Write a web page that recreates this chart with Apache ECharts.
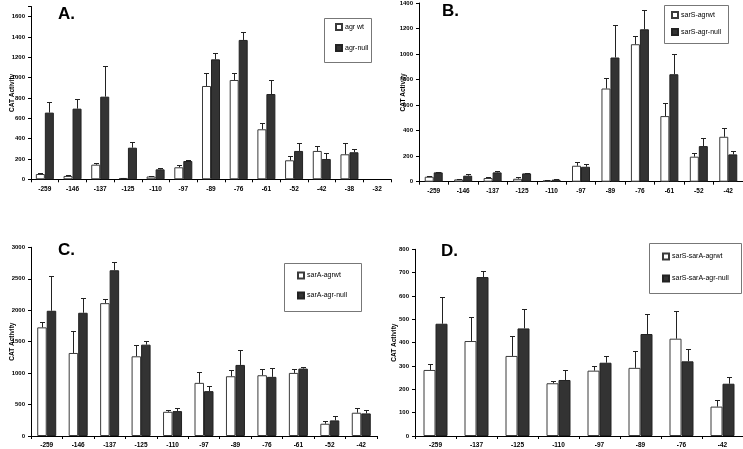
<!DOCTYPE html>
<html>
<head>
<meta charset="utf-8">
<script src="https://cdn.jsdelivr.net/npm/echarts@6/dist/echarts.min.js"></script>
<style>
html,body{margin:0;padding:0;background:#fff;}
#chart{width:743px;height:449px;}
</style>
</head>
<body>
<div id="chart"></div>
<script>
// ---- Data ----
const catsA = ['-259','-146','-137','-125','-110','-97','-89','-76','-61','-52','-42','-38','-32'];
const wtA      = [52, 33, 144, 13, 28, 118, 918, 977, 492, 187, 279, 246, null];
const wtAErr   = [66, 38, 157, 16, 33, 144, 1043, 1046, 551, 226, 331, 357, null];
const nullA    = [656, 695, 813, 311, 98, 180, 1180, 1371, 839, 279, 200, 266, null];
const nullAErr = [764, 787, 1115, 364, 108, 187, 1240, 1446, 974, 354, 256, 298, null];

const catsB = ['-259','-146','-137','-125','-110','-97','-89','-76','-61','-52','-42'];
const wtB      = [39, 18, 29, 23, 10, 125, 730, 1077, 514, 196, 352];
const wtBErr   = [47, 22, 33, 34, 13, 156, 814, 1145, 613, 222, 420];
const nullB    = [73, 47, 73, 65, 16, 117, 973, 1194, 842, 279, 214];
const nullBErr = [78, 57, 81, 70, 23, 138, 1231, 1343, 1001, 342, 237];

const catsC = ['-259','-146','-137','-125','-110','-97','-89','-76','-61','-52','-42'];
const wtC      = [1727, 1320, 2112, 1267, 385, 845, 950, 966, 1003, 195, 370];
const wtCErr   = [1806, 1668, 2181, 1447, 407, 1019, 1051, 1061, 1061, 232, 444];
const nullC    = [1991, 1959, 2635, 1452, 396, 713, 1130, 940, 1072, 248, 359];
const nullCErr = [2540, 2191, 2761, 1510, 449, 797, 1373, 1088, 1098, 312, 417];

const catsD = ['-259','-137','-125','-110','-97','-89','-76','-42'];
const wtD      = [283, 407, 343, 226, 280, 292, 417, 126];
const wtDErr   = [310, 510, 430, 236, 300, 363, 534, 154];
const nullD    = [481, 681, 461, 240, 314, 437, 320, 224];
const nullDErr = [595, 708, 545, 281, 343, 524, 374, 253];

const seriesNames = {
  A: ['agr wt', 'agr-null'],
  B: ['sarS-agrwt', 'sarS-agr-null'],
  C: ['sarA-agrwt', 'sarA-agr-null'],
  D: ['sarS-sarA-agrwt', 'sarS-sarA-agr-null']
};
const yMaxes = {A: 1700, B: 1400, C: 3000, D: 800};
const yIntervals = {A: 200, B: 200, C: 500, D: 100};
const yLabelMax = {A: 1600, B: 1400, C: 3000, D: 800};
const panelTitles = {A: 'A.', B: 'B.', C: 'C.', D: 'D.'};
const yAxisTitle = 'CAT Activity';

// ---- Layout ----
const FONT = 'Liberation Sans, Arial, sans-serif';
const panels = [
  {key:'A', cats:catsA, wt:wtA, wtE:wtAErr, nu:nullA, nuE:nullAErr,
   grid:{left:31, top:6.5, width:360, height:172.8}, bw:9, nameGap:15,
   title:{x:58, y:6}, legendBox:{x:324, y:18, w:47, h:44}, legend:{left:335, top:23, gap:13}},
  {key:'B', cats:catsB, wt:wtB, wtE:wtBErr, nu:nullB, nuE:nullBErr,
   grid:{left:419, top:2.7, width:329, height:179}, bw:9, nameGap:12,
   title:{x:442, y:3}, legendBox:{x:664, y:5, w:64, h:38}, legend:{left:671, top:11, gap:9}},
  {key:'C', cats:catsC, wt:wtC, wtE:wtCErr, nu:nullC, nuE:nullCErr,
   grid:{left:31, top:247.3, width:346, height:189.4}, bw:9.5, nameGap:15,
   title:{x:58, y:242}, legendBox:{x:284, y:263, w:77, h:48}, legend:{left:297, top:271.5, gap:12}},
  {key:'D', cats:catsD, wt:wtD, wtE:wtDErr, nu:nullD, nuE:nullDErr,
   grid:{left:415, top:249.3, width:330, height:187.4}, bw:12, nameGap:17,
   title:{x:441, y:243}, legendBox:{x:649, y:243, w:92, h:50}, legend:{left:662, top:252.5, gap:14}}
];

const grids = [], xAxes = [], yAxes = [], series = [], legends = [], graphics = [];

panels.forEach((p, gi) => {
  const names = seriesNames[p.key];
  grids.push(Object.assign({containLabel:false}, p.grid));
  xAxes.push({
    type:'category', gridIndex:gi, data:p.cats,
    axisLine:{lineStyle:{color:'#000', width:1}},
    axisTick:{show:true, alignWithLabel:false, length:3, lineStyle:{color:'#000'}},
    axisLabel:{interval:0, fontFamily:FONT, fontWeight:'bold', fontSize:6.5, color:'#000', margin:6}
  });
  const lm = yLabelMax[p.key];
  yAxes.push({
    type:'value', gridIndex:gi, min:0, max:yMaxes[p.key], interval:yIntervals[p.key],
    splitLine:{show:false},
    axisLine:{show:true, lineStyle:{color:'#000', width:1}},
    axisTick:{show:true, length:3, lineStyle:{color:'#000'}},
    axisLabel:{fontFamily:FONT, fontWeight:'bold', fontSize:6, color:'#000', margin:6,
      formatter: v => (v <= lm ? String(v) : '')},
    name:yAxisTitle, nameLocation:'middle', nameGap:p.nameGap, nameMoveOverlap:false,
    nameTextStyle:{fontFamily:FONT, fontWeight:'bold', fontSize:6.5, color:'#000'}
  });
  series.push({
    name:names[0], type:'bar', xAxisIndex:gi, yAxisIndex:gi, data:p.wt,
    barWidth:p.bw, barGap:'0%',
    itemStyle:{color:'#fff', borderColor:'#3a3a3a', borderWidth:1}
  });
  series.push({
    name:names[1], type:'bar', xAxisIndex:gi, yAxisIndex:gi, data:p.nu,
    barWidth:p.bw, barGap:'0%',
    itemStyle:{color:'#333', borderColor:'#222', borderWidth:1}
  });
  const errData = [];
  p.wt.forEach((v, i) => { if (v != null && p.wtE[i] != null) errData.push([i, v, p.wtE[i], -1]); });
  p.nu.forEach((v, i) => { if (v != null && p.nuE[i] != null) errData.push([i, v, p.nuE[i], 1]); });
  const bw = p.bw;
  series.push({
    type:'custom', xAxisIndex:gi, yAxisIndex:gi, silent:true, z:5,
    data:errData,
    encode:{x:0, y:[1,2]},
    renderItem:(params, api) => {
      const i = api.value(0);
      const b = api.coord([i, api.value(1)]);
      const t = api.coord([i, api.value(2)]);
      const x = Math.round(b[0] + api.value(3) * bw / 2) + 0.5;
      const yt = Math.round(t[1]) + 0.5;
      return {type:'group', children:[
        {type:'line', shape:{x1:x, y1:b[1], x2:x, y2:yt}, style:{stroke:'#222', lineWidth:1}},
        {type:'line', shape:{x1:x-2.5, y1:yt, x2:x+2.5, y2:yt}, style:{stroke:'#222', lineWidth:1}}
      ]};
    }
  });
  legends.push({
    data:names.map(n => ({name:n, icon:'rect'})), orient:'vertical', left:p.legend.left, top:p.legend.top,
    itemWidth:6, itemHeight:6, itemGap:p.legend.gap, padding:0,
    textStyle:{fontFamily:FONT, fontSize:7, color:'#000', padding:[0,0,0,-2]},
    selectedMode:false
  });
  graphics.push({
    type:'rect', left:p.legendBox.x, top:p.legendBox.y, z:-1,
    shape:{width:p.legendBox.w, height:p.legendBox.h},
    style:{fill:'#fff', stroke:'#777', lineWidth:1}
  });
  graphics.push({
    type:'text', left:p.title.x, top:p.title.y,
    style:{text:panelTitles[p.key], fontFamily:FONT, fontWeight:'bold', fontSize:17, fill:'#000'}
  });
});

const chart = echarts.init(document.getElementById('chart'), null, {renderer:'canvas'});
chart.setOption({
  backgroundColor:'#fff',
  animation:false,
  grid:grids, xAxis:xAxes, yAxis:yAxes, series:series, legend:legends,
  graphic:graphics
});
</script>
</body>
</html>
